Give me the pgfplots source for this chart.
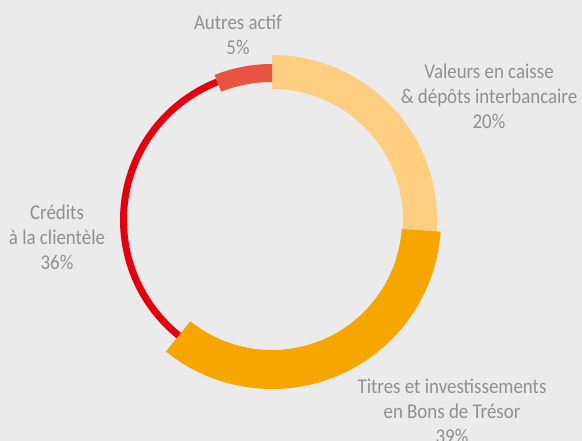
\documentclass[border=0pt]{standalone}
\usepackage{fontspec}
\setmainfont{Carlito}[FakeStretch=0.9]
\usepackage{pgfplots}
\usepackage{pgfplotstable}
\pgfplotsset{compat=1.18}

\definecolor{bg}{HTML}{EBEBEB}
\definecolor{txt}{HTML}{909090}
\definecolor{valeurs}{HTML}{FFCE80}
\definecolor{titres}{HTML}{F7A600}
\definecolor{credits}{HTML}{E3000F}
\definecolor{autres}{HTML}{E85441}

% share of the circle (%), inner and outer radius (px), colour
\pgfplotstableread{
share rin rout col
26.1  131 165  valeurs
34.7  130 169  titres
33.2  145 152  credits
6.0   138 156  autres
}\ringdata

\begin{document}
\begin{tikzpicture}
\fill[bg] (0,0) rectangle (582pt,441pt);
\begin{axis}[
    at={(0,0)}, anchor=south west,
    scale only axis, width=582pt, height=441pt,
    xmin=0, xmax=582, ymin=0, ymax=441,
    hide axis, clip=false,
]
\addplot[draw=none] coordinates {(0,0)(582,441)};
\pgfplotsextra{
  \def\a{90}
  \foreach \i in {0,...,3}{
    \pgfplotstablegetelem{\i}{share}\of\ringdata \let\s\pgfplotsretval
    \pgfplotstablegetelem{\i}{rin}\of\ringdata \let\ri\pgfplotsretval
    \pgfplotstablegetelem{\i}{rout}\of\ringdata \let\ro\pgfplotsretval
    \pgfplotstablegetelem{\i}{col}\of\ringdata \let\c\pgfplotsretval
    \pgfmathsetmacro\b{\a-3.6*\s}
    \begin{scope}[shift={(axis cs:272,221)}]
      \fill[\c] (\a:\ro pt) arc[start angle=\a, end angle=\b, radius=\ro pt]
        -- (\b:\ri pt) arc[start angle=\b, end angle=\a, radius=\ri pt] -- cycle;
    \end{scope}
    \global\let\a\b
  }
}
\begin{scope}[every node/.style={align=center, text=txt, font=\fontsize{21}{25}\selectfont}]
\node at (axis cs:238,406) {Autres actif\\5\%};
\node at (axis cs:489,345) {Valeurs en caisse\\\& dépôts interbancaire\\20\%};
\node at (axis cs:57,204) {Crédits\\à la clientèle\\36\%};
\node at (axis cs:452,30) {Titres et investissements\\en Bons de Trésor\\39\%};
\end{scope}
\end{axis}
\pgfresetboundingbox
\path (0,0) rectangle (582pt,441pt);
\end{tikzpicture}
\end{document}
